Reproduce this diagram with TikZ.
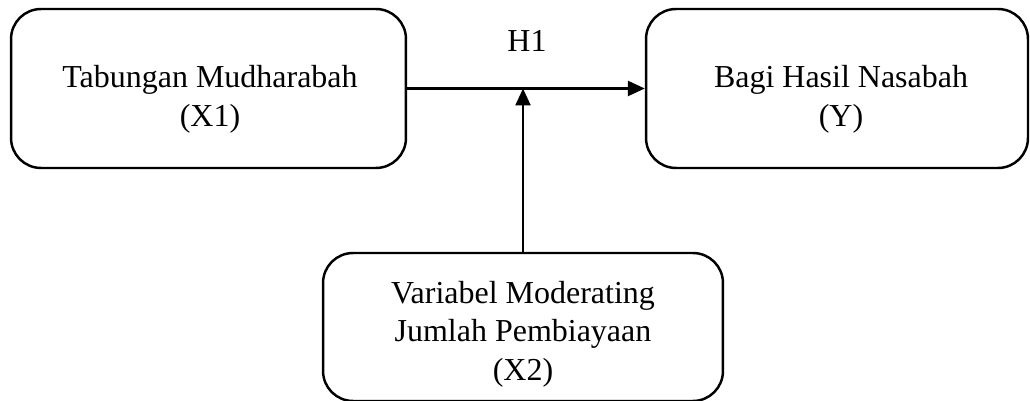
\documentclass[tikz,border=0pt]{standalone}
\usepackage{fontspec}
\setmainfont{Liberation Serif}
\usepackage{tikz}
\usetikzlibrary{arrows.meta}

\tikzset{
    varbox/.style={draw=black, line width=1.4pt, rounded corners=0.6cm, inner sep=0pt},
    vartext/.style={align=center, font=\fontsize{18.2}{22}\selectfont, inner sep=0pt},
    link/.style={line width=1.4pt, -{Triangle[length=0.34cm,width=0.3cm]}}
}

\begin{document}
\begin{tikzpicture}[x=0.02cm, y=-0.02cm]
        \useasboundingbox (0,0) rectangle (1030,401);
        % kotak variabel
        \node[varbox, minimum width=7.9cm, minimum height=3.18cm] (x1) at (208.5,88.5) {};
        \node[varbox, minimum width=7.64cm, minimum height=3.18cm] (y) at (837,88.5) {};
        \node[varbox, minimum width=8cm, minimum height=2.96cm] (x2) at (523,327) {};
        % teks
        \node[vartext] (x1t) at (210,99) {Tabungan Mudharabah\\(X1)};
        \node[vartext] (yt) at (841,99) {Bagi Hasil Nasabah\\(Y)};
        \node[vartext] (x2t) at (523,334) {Variabel Moderating\\Jumlah Pembiayaan\\(X2)};
        \node[vartext] (h1) at (527,41) {H1};
        % panah
        \draw[link] (x1.east) -- (y.west);
        \coordinate (mod) at (x2.north |- x1.east);
        \draw[link] (x2.north) -- (mod);
    \end{tikzpicture}
\end{document}
